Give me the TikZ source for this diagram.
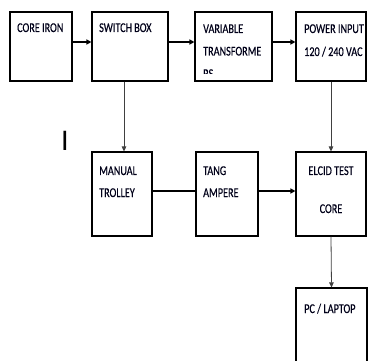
\documentclass[tikz,border=0pt]{standalone}
\usepackage{fontspec}
\setmainfont{Carlito}
\newfontfamily\lblfont[FakeStretch=0.76,FakeBold=0.4]{Carlito}
\usetikzlibrary{arrows.meta}
\tikzset{
  blk/.style={draw=black, line width=1.1pt, minimum width=#1, inner sep=0pt},
  lbl/.style={anchor=base west, inner sep=0pt, text=black!90!blue, font=\lblfont\fontsize{13.4}{15}\selectfont},
  lblc/.style={anchor=base, inner sep=0pt, text=black!90!blue, font=\lblfont\fontsize{13.4}{15}\selectfont},
  harr/.style={line width=1.4pt, -{Triangle[length=5pt,width=5pt]}},
  varr/.style={draw=black!75, line width=0.8pt, -{Triangle[length=5pt,width=4.5pt]}},
  vline/.style={draw=black!75, line width=0.8pt}
}
\begin{document}
\begin{tikzpicture}[x=1pt,y=-1pt]
\useasboundingbox (0,0) rectangle (370,361);
\clip (0,0) rectangle (370,361);
\fill[white] (0,0) rectangle (370,361);
% boxes
\node[blk=62pt, minimum height=69pt] (core) at (41,46.5) {};
\node[blk=76pt, minimum height=69pt] (switch) at (130,46.5) {};
\node[blk=77pt, minimum height=69pt] (var) at (233.5,46.5) {};
\node[blk=70pt, minimum height=69pt] (power) at (331,46.5) {};
\node[blk=60pt, minimum height=84pt] (manual) at (122,194) {};
\node[blk=62pt, minimum height=84pt] (tang) at (227,194) {};
\node[blk=70pt, minimum height=84pt] (elcid) at (331,194) {};
\node[blk=71pt, minimum height=87pt] (pc) at (331.5,331.5) {};
% labels
\node[lbl] (t1) at (17,32) {CORE IRON};
\node[lbl] (t2) at (99,32) {SWITCH BOX};
\node[lbl] (t3a) at (203,33) {VARIABLE};
\node[lbl] (t3b) at (203,55.5) {TRANSFORME};
\begin{scope}
\clip (196,60) rectangle (271,73.5);
\node[lbl] (t3c) at (203,78) {RS};
\end{scope}
\node[lbl] (t4a) at (304,33) {POWER INPUT};
\node[lbl] (t4b) at (304,56) {120 / 240 VAC};
\node[lbl] (t5a) at (99,175) {MANUAL};
\node[lbl] (t5b) at (99,197) {TROLLEY};
\node[lbl] (t6a) at (203,175) {TANG};
\node[lbl] (t6b) at (203,197) {AMPERE};
\node[lblc] (t7a) at (331,175) {ELCID TEST};
\node[lblc] (t7b) at (331,213) {CORE};
\node[lbl] (t8) at (304,313) {PC / LAPTOP};
\node[anchor=base, inner sep=0pt, font=\fontsize{30}{30}\selectfont] (cursor) at (65,150) {I};
% connectors
\draw[harr] (core.east |- 0,42) -- (switch.west |- 0,42);
\draw[harr] (switch.east |- 0,42) -- (var.west |- 0,42);
\draw[harr] (var.east |- 0,42) -- (power.west |- 0,42);
\draw[varr] ([xshift=2pt]manual.north |- switch.south) -- ([xshift=2pt]manual.north);
\draw[varr] (power.south) -- (elcid.north);
\draw[line width=1.2pt] (manual.east |- 0,191) -- (tang.west |- 0,191);
\draw[harr] (tang.east |- 0,191) -- (elcid.west |- 0,191);
\draw[varr] (elcid.south) -- (pc.north);
\end{tikzpicture}
\end{document}
